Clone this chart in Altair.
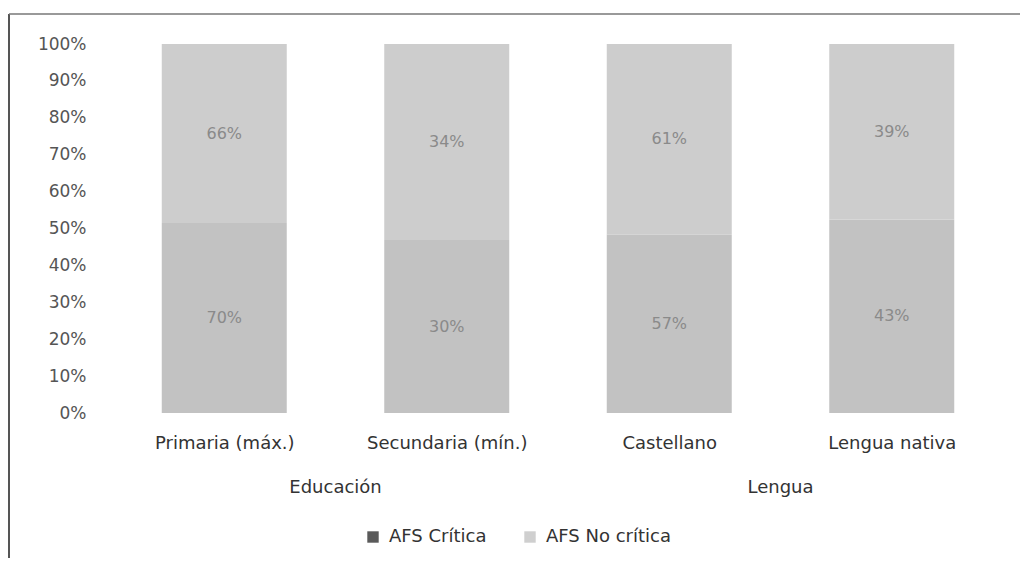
import altair as alt
import pandas as pd

categories = ["Primaria (máx.)", "Secundaria (mín.)", "Castellano", "Lengua nativa"]
groups = ["Educación", "Educación", "Lengua", "Lengua"]
series = ["AFS Crítica", "AFS No crítica"]
critica = [70, 30, 57, 43]
no_critica = [66, 34, 61, 39]
y_ticks = [0, 0.1, 0.2, 0.3, 0.4, 0.5, 0.6, 0.7, 0.8, 0.9, 1.0]

rows = []
for i, c in enumerate(categories):
    rows.append({"idx": i, "cat": c, "group": groups[i], "series": series[0], "order": 0, "value": critica[i]})
    rows.append({"idx": i, "cat": c, "group": groups[i], "series": series[1], "order": 1, "value": no_critica[i]})
df = pd.DataFrame(rows)

gdf = df[df["order"] == 0].groupby("group", as_index=False)["idx"].mean()

FONT = "DejaVu Sans"
label_expr = "[" + ",".join("'" + c + "'" for c in categories) + "][datum.value]"

xscale = alt.Scale(domain=[-0.5, 3.5], nice=False, zero=False)
yscale = alt.Scale(domain=[0, 1], nice=False)
xaxis = alt.Axis(values=list(range(len(categories))), labelExpr=label_expr, title=None,
                 domain=False, ticks=False, grid=False, labelPadding=21, labelOverlap=False,
                 labelFontSize=18, labelColor="#333", labelFont=FONT)
yaxis = alt.Axis(format=".0%", values=y_ticks, title=None,
                 domain=False, ticks=False, grid=False, labelPadding=22, labelOverlap=False,
                 labelFontSize=17, labelColor="#555", labelFont=FONT)

base = alt.Chart(df).transform_stack(
    stack="value", groupby=["cat"], as_=["y0", "y1"], offset="normalize",
    sort=[alt.SortField("order", order="ascending")]
)

bars = base.mark_bar(size=125).encode(
    x=alt.X("idx:Q", scale=xscale, axis=xaxis),
    y=alt.Y("y0:Q", scale=yscale, axis=yaxis),
    y2="y1:Q",
    color=alt.Color("series:N", scale=alt.Scale(domain=series, range=["#c2c2c2", "#cdcdcd"]), legend=None),
)

labels = base.transform_calculate(
    mid="(datum.y0 + datum.y1) / 2", lab="datum.value + '%'"
).mark_text(fontSize=16, font=FONT, color="#8a8a8a").encode(
    x=alt.X("idx:Q", scale=xscale, axis=xaxis),
    y=alt.Y("mid:Q", scale=yscale, axis=yaxis),
    text="lab:N",
)

group_labels = alt.Chart(gdf).mark_text(fontSize=18, font=FONT, color="#333", baseline="middle").encode(
    x=alt.X("idx:Q", scale=xscale, axis=xaxis),
    y=alt.value(444),
    text="group:N",
)

legend_layer = alt.Chart(df).mark_square(opacity=0).encode(
    x=alt.X("idx:Q", scale=xscale, axis=xaxis),
    y=alt.value(0),
    color=alt.Color("series:N", scale=alt.Scale(domain=series, range=["#5a5a5a", "#cfcfcf"]),
                    legend=alt.Legend(orient="none", legendX=256, legendY=484, direction="horizontal",
                                      title=None, symbolType="square", symbolSize=130, symbolOpacity=1,
                                      labelFontSize=18, labelFont=FONT, labelColor="#333",
                                      labelOffset=7, columnPadding=34, symbolStrokeWidth=0)),
)

frame = alt.Chart(alt.Data(values=[{}])).mark_rule(color="#555", strokeWidth=2).encode(
    x=alt.value(-99), y=alt.value(-30), y2=alt.value(525)
)
top_line = alt.Chart(alt.Data(values=[{}])).mark_rule(color="#777", strokeWidth=1.5).encode(
    x=alt.value(-99), x2=alt.value(912), y=alt.value(-30)
)
bottom = alt.Chart(alt.Data(values=[{}])).mark_rule(color="#ddd", strokeWidth=1).encode(
    x=alt.value(-99), x2=alt.value(912), y=alt.value(524)
)

chart = alt.layer(frame, top_line, bottom, bars, labels, group_labels, legend_layer).resolve_scale(
    color="independent"
).properties(
    width=900, height=369,
    autosize=alt.AutoSizeParams(type="none"),
    padding={"left": 100, "top": 36, "right": 12, "bottom": 145},
).configure_view(stroke=None)

chart.save("out.html", embed_options={"renderer": "svg", "actions": False})
